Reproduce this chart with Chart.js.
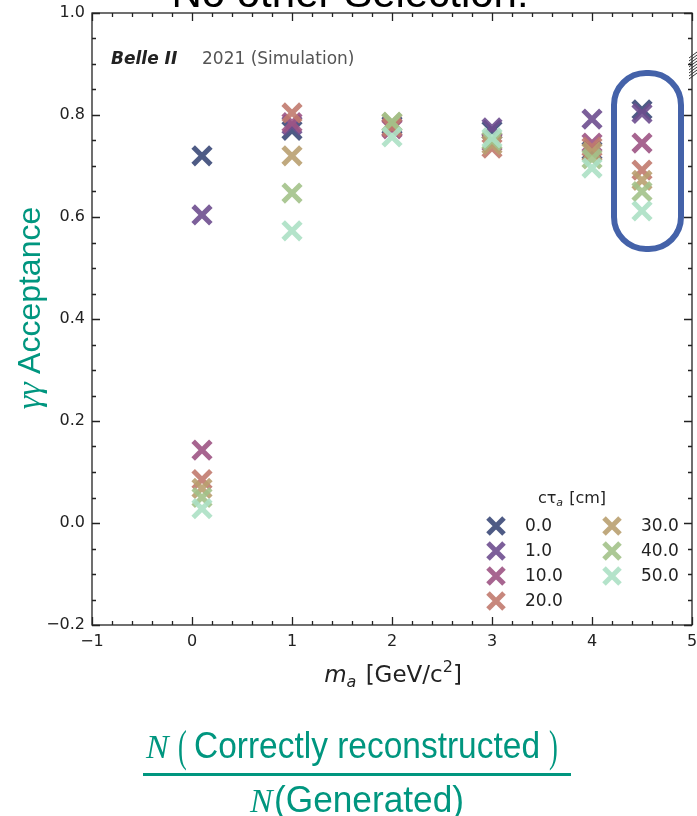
<!DOCTYPE html>
<html>
<head>
<meta charset="utf-8">
<script src="https://cdn.jsdelivr.net/npm/chart.js@4/dist/chart.umd.min.js"></script>
<style>
  body { margin:0; background:#fff; }
  canvas { display:block; }
</style>
</head>
<body>
<canvas id="accChart" width="697" height="816"></canvas>
<script>
// axion mass points [GeV/c^2]
const masses = [0.1, 1, 2, 3, 4, 4.5];
// c*tau_a [cm]
const lifetimes = ['0.0', '1.0', '10.0', '20.0', '30.0', '40.0', '50.0'];
const acc_0  = [0.720, 0.770, 0.780, 0.770, 0.730, 0.810];
const acc_1  = [0.604, 0.780, 0.775, 0.775, 0.792, 0.803];
const acc_10 = [0.143, 0.785, 0.773, 0.747, 0.745, 0.745];
const acc_20 = [0.085, 0.804, 0.776, 0.735, 0.737, 0.692];
const acc_30 = [0.068, 0.720, 0.785, 0.742, 0.727, 0.672];
const acc_40 = [0.050, 0.647, 0.786, 0.750, 0.714, 0.650];
const acc_50 = [0.028, 0.573, 0.757, 0.755, 0.696, 0.612];
const xTicks = [-1, 0, 1, 2, 3, 4, 5];
const yTicks = [-0.2, 0.0, 0.2, 0.4, 0.6, 0.8, 1.0];

const allAcc = [acc_0, acc_1, acc_10, acc_20, acc_30, acc_40, acc_50];
const colors = ['rgba(59,73,120,0.9)', 'rgba(110,78,143,0.9)', 'rgba(157,84,132,0.9)',
  'rgba(193,122,110,0.9)', 'rgba(185,160,112,0.9)', 'rgba(163,194,138,0.9)', 'rgba(172,224,196,0.9)'];
const teal = '#00967f';

const datasets = lifetimes.map((lt, i) => ({
  label: lt,
  data: masses.map((m, j) => ({x: m, y: allAcc[i][j]})),
  pointStyle: 'crossRot',
  pointRadius: 12.5,
  pointHoverRadius: 12.5,
  borderWidth: 5,
  borderColor: colors[i],
  backgroundColor: colors[i],
  order: lifetimes.length - i
}));

function drawX(ctx, x, y, h, col) {
  ctx.save();
  ctx.strokeStyle = col; ctx.lineWidth = 5;
  ctx.beginPath();
  ctx.moveTo(x - h, y - h); ctx.lineTo(x + h, y + h);
  ctx.moveTo(x - h, y + h); ctx.lineTo(x + h, y - h);
  ctx.stroke();
  ctx.restore();
}

const decor = {
  id: 'decor',
  afterDraw(chart) {
    const {ctx, chartArea: a, scales: {x, y}} = chart;
    ctx.save();
    // frame
    ctx.strokeStyle = '#222'; ctx.lineWidth = 1.3;
    ctx.strokeRect(a.left, a.top, a.right - a.left, a.bottom - a.top);
    // inward ticks, all four sides
    ctx.beginPath();
    for (let v = -1; v <= 5.001; v += 0.2) {
      const px = Math.round(x.getPixelForValue(v)) + 0.5;
      const major = Math.abs(v - Math.round(v)) < 1e-6;
      const len = major ? 8 : 4;
      ctx.moveTo(px, a.bottom); ctx.lineTo(px, a.bottom - len);
      ctx.moveTo(px, a.top); ctx.lineTo(px, a.top + len);
    }
    for (let v = -0.2; v <= 1.0001; v += 0.05) {
      const py = Math.round(y.getPixelForValue(v)) + 0.5;
      const major = Math.abs(v * 5 - Math.round(v * 5)) < 1e-6;
      const len = major ? 8 : 4;
      ctx.moveTo(a.left, py); ctx.lineTo(a.left + len, py);
      ctx.moveTo(a.right, py); ctx.lineTo(a.right - len, py);
    }
    ctx.stroke();

    // title (cut off at the top)
    ctx.fillStyle = '#000';
    ctx.font = '42px "Liberation Sans", Arial, sans-serif';
    ctx.textAlign = 'center'; ctx.textBaseline = 'alphabetic';
    ctx.fillText('No other Selection!', 350, 7);

    // Belle II label
    ctx.textAlign = 'left';
    ctx.font = 'italic bold 17px "DejaVu Sans", sans-serif';
    ctx.fillStyle = '#222';
    ctx.fillText('Belle II', 111, 64);
    ctx.font = '17px "DejaVu Sans", sans-serif';
    ctx.fillStyle = '#555';
    ctx.fillText('2021 (Simulation)', 202, 64);

    // y-axis title
    ctx.save();
    ctx.translate(40, 308);
    ctx.rotate(-Math.PI / 2);
    ctx.fillStyle = teal;
    const gFont = 'italic 34px "Liberation Serif", serif';
    const aFont = '32px "Liberation Sans", Arial, sans-serif';
    ctx.font = gFont; const gw = ctx.measureText('\u03b3\u03b3 ').width;
    ctx.font = aFont; const aw = ctx.measureText('Acceptance').width;
    let sx = -(gw + aw) / 2;
    ctx.font = gFont; ctx.fillText('\u03b3\u03b3 ', sx, 0);
    ctx.font = aFont; ctx.fillText('Acceptance', sx + gw, 0);
    ctx.restore();

    // x-axis title
    ctx.fillStyle = '#222';
    const m1 = 'italic 23px "DejaVu Sans", sans-serif';
    const m2 = '23px "DejaVu Sans", sans-serif';
    const sub = 'italic 16px "DejaVu Sans", sans-serif';
    const sup = '16px "DejaVu Sans", sans-serif';
    ctx.font = m1; const w1 = ctx.measureText('m').width;
    ctx.font = sub; const w2 = ctx.measureText('a').width + 2;
    ctx.font = m2; const w3 = ctx.measureText(' [GeV/c').width;
    ctx.font = sup; const w4 = ctx.measureText('2').width;
    ctx.font = m2; const w5 = ctx.measureText(']').width;
    let xx = 393 - (w1 + w2 + w3 + w4 + w5) / 2;
    const by = 682;
    ctx.font = m1; ctx.fillText('m', xx, by); xx += w1;
    ctx.font = sub; ctx.fillText('a', xx, by + 5); xx += w2;
    ctx.font = m2; ctx.fillText(' [GeV/c', xx, by); xx += w3;
    ctx.font = sup; ctx.fillText('2', xx, by - 10); xx += w4;
    ctx.font = m2; ctx.fillText(']', xx, by);

    // legend
    ctx.fillStyle = '#222';
    ctx.font = '16px "DejaVu Sans", sans-serif';
    const tw1 = ctx.measureText('c\u03c4').width;
    ctx.font = 'italic 11px "DejaVu Sans", sans-serif';
    const tw2 = ctx.measureText('a').width + 1;
    ctx.font = '16px "DejaVu Sans", sans-serif';
    const tw3 = ctx.measureText(' [cm]').width;
    let lx = 572 - (tw1 + tw2 + tw3) / 2;
    ctx.fillText('c\u03c4', lx, 503); lx += tw1;
    ctx.font = 'italic 11px "DejaVu Sans", sans-serif';
    ctx.fillText('a', lx, 506); lx += tw2;
    ctx.font = '16px "DejaVu Sans", sans-serif';
    ctx.fillText(' [cm]', lx, 503);
    ctx.font = '17px "DejaVu Sans", sans-serif';
    ctx.textBaseline = 'middle';
    lifetimes.forEach((lt, i) => {
      const col = i < 4 ? 0 : 1;
      const row = i < 4 ? i : i - 4;
      const mx = col ? 612 : 496;
      const my = 526 + row * 25;
      drawX(ctx, mx, my, 8, colors[i]);
      ctx.fillStyle = '#222';
      ctx.fillText(lt, mx + 29, my + 1);
    });

    // highlight around m_a = 4.5
    ctx.strokeStyle = '#4462a9'; ctx.lineWidth = 6;
    ctx.beginPath();
    ctx.roundRect(614, 73, 67, 176, 32);
    ctx.stroke();

    // small scribble at the top right
    ctx.strokeStyle = '#333'; ctx.lineWidth = 1;
    ctx.beginPath();
    for (let s = 52; s <= 74; s += 3) { ctx.moveTo(689, s + 6); ctx.lineTo(697, s); }
    ctx.stroke();

    // efficiency definition
    ctx.fillStyle = teal;
    ctx.textBaseline = 'alphabetic'; ctx.textAlign = 'left';
    ctx.font = 'italic 34px "Liberation Serif", serif';
    ctx.fillText('N', 146, 758);
    ctx.font = '44px "Liberation Serif", serif';
    ctx.save();
    ctx.translate(178, 761); ctx.scale(0.6, 1); ctx.fillText('(', 0, 0); ctx.restore();
    ctx.save();
    ctx.translate(549, 761); ctx.scale(0.6, 1); ctx.fillText(')', 0, 0); ctx.restore();
    ctx.font = '37px "Liberation Sans", Arial, sans-serif';
    ctx.save();
    const cw = ctx.measureText('Correctly reconstructed').width;
    ctx.translate(194, 758);
    ctx.scale(346 / cw, 1);
    ctx.fillText('Correctly reconstructed', 0, 0);
    ctx.restore();
    ctx.fillRect(143, 773, 428, 3);
    ctx.font = 'italic 34px "Liberation Serif", serif';
    ctx.fillText('N', 250, 812);
    ctx.font = '37px "Liberation Sans", Arial, sans-serif';
    ctx.save();
    const gw2 = ctx.measureText('(Generated)').width;
    ctx.translate(274, 812);
    ctx.scale(190 / gw2, 1);
    ctx.fillText('(Generated)', 0, 0);
    ctx.restore();
    ctx.restore();
  }
};

new Chart(document.getElementById('accChart'), {
  type: 'scatter',
  data: { datasets },
  options: {
    responsive: false,
    animation: false,
    devicePixelRatio: 1,
    layout: { autoPadding: false, padding: { left: 0, top: 13, right: 5, bottom: 0 } },
    plugins: { legend: { display: false }, tooltip: { enabled: false } },
    scales: {
      x: {
        type: 'linear', min: -1, max: 5,
        afterBuildTicks: s => { s.ticks = xTicks.map(v => ({value: v})); },
        afterFit: s => { s.height = 816 - 625; s.paddingLeft = 0; s.paddingRight = 0; },
        grid: { display: false, drawTicks: false },
        border: { display: false },
        ticks: {
          padding: 7, color: '#222',
          font: { family: '"DejaVu Sans", sans-serif', size: 16 },
          callback: v => (v < 0 ? '\u2212' : '') + Math.abs(v).toFixed(0)
        }
      },
      y: {
        type: 'linear', min: -0.2, max: 1.0,
        afterBuildTicks: s => { s.ticks = yTicks.map(v => ({value: v})); },
        afterFit: s => { s.width = 92; s.paddingTop = 0; s.paddingBottom = 0; },
        grid: { display: false, drawTicks: false },
        border: { display: false },
        ticks: {
          padding: 7, color: '#222',
          font: { family: '"DejaVu Sans", sans-serif', size: 16 },
          callback: v => (v < -1e-9 ? '\u2212' : '') + Math.abs(v).toFixed(1)
        }
      }
    }
  },
  plugins: [decor]
});
</script>
</body>
</html>
